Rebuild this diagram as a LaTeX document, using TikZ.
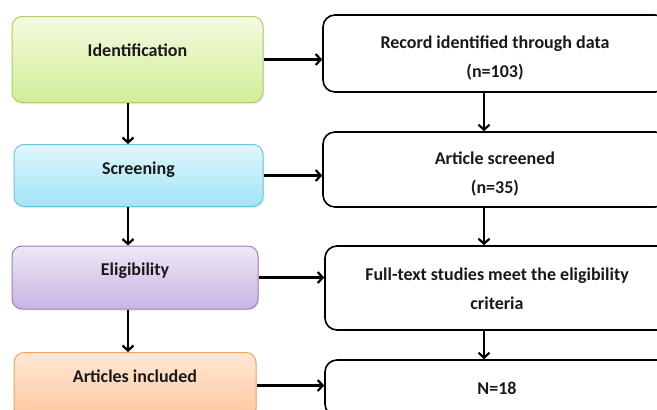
\documentclass[tikz,border=0pt]{standalone}
\usepackage{fontspec}
\setmainfont{Carlito}
\usetikzlibrary{arrows.meta,shadows}
\definecolor{grntop}{HTML}{F4FBDF}\definecolor{grnbot}{HTML}{D0ED96}\definecolor{grnline}{HTML}{A9CF6A}
\definecolor{blutop}{HTML}{E0F7FD}\definecolor{blubot}{HTML}{A0E4F8}\definecolor{bluline}{HTML}{6CC3DA}
\definecolor{purtop}{HTML}{EEE8F7}\definecolor{purbot}{HTML}{C8B4E2}\definecolor{purline}{HTML}{9B80C0}
\definecolor{orgtop}{HTML}{FFE8D7}\definecolor{orgbot}{HTML}{FFC69C}\definecolor{orgline}{HTML}{F5A35F}
\begin{document}
\begin{tikzpicture}[x=1pt, y=-1pt,
    every node/.style={font=\fontsize{18}{29}\selectfont\bfseries, text=black!90},
    stage/.style={rectangle, rounded corners=10pt, line width=1pt, inner sep=0pt,
      drop shadow={opacity=0.15, shadow xshift=1pt, shadow yshift=-1.5pt}},
    result/.style={rectangle, rounded corners=12pt, draw=black, line width=1.6pt,
      minimum width=344pt, align=center, inner sep=0pt, text height=51pt},
    flow/.style={line width=2.2pt, -{Straight Barb[length=5pt, width=11pt, line width=2.2pt]}}]
  \clip (0,0) rectangle (657,410);
  % left column
  \node (ident) at (137.5,59.5) [stage, minimum width=251pt, minimum height=86pt,
    top color=grntop, bottom color=grnbot, draw=grnline,
    label={[yshift=9.5pt]center:Identification}] {};
  \node (screen) at (138.5,175.5) [stage, minimum width=249pt, minimum height=62pt,
    top color=blutop, bottom color=blubot, draw=bluline,
    label={[yshift=5.5pt]center:Screening}] {};
  \node (elig) at (135,277.5) [stage, minimum width=246pt, minimum height=63pt,
    top color=purtop, bottom color=purbot, draw=purline,
    label={[yshift=6.5pt]center:Eligibility}] {};
  \node (incl) at (135,385.5) [stage, minimum width=242pt, minimum height=66pt,
    top color=orgtop, bottom color=orgbot, draw=orgline,
    label={[yshift=9.5pt]center:Articles included}] {};
  % right column
  \node (rec) at (495,53.5) [result, minimum height=77pt] {Record identified through data\\(n=103)};
  \node (scr) at (495,169.5) [result, minimum height=75pt] {Article screened\\(n=35)};
  \node (full) at (497,288) [result, minimum height=84pt, text height=43pt] {Full-text studies meet the eligibility\\criteria};
  \node (fin) at (497,388) [result, minimum height=56pt, text height=13pt] {N=18};
  % connectors
  \foreach \source/\dest in {ident/rec, screen/scr, elig/full, incl/fin}
    \draw[flow] (\source.east) -- (\source.east -| \dest.west);
  \foreach \source/\dest in {ident/screen, screen/elig, elig/incl}
    \draw[flow] (\source.south -| 128,0) -- (\dest.north -| 128,0);
  \foreach \source/\dest in {rec/scr, scr/full, full/fin}
    \draw[flow] (\source.south -| 484,0) -- (\dest.north -| 484,0);
\end{tikzpicture}
\end{document}
